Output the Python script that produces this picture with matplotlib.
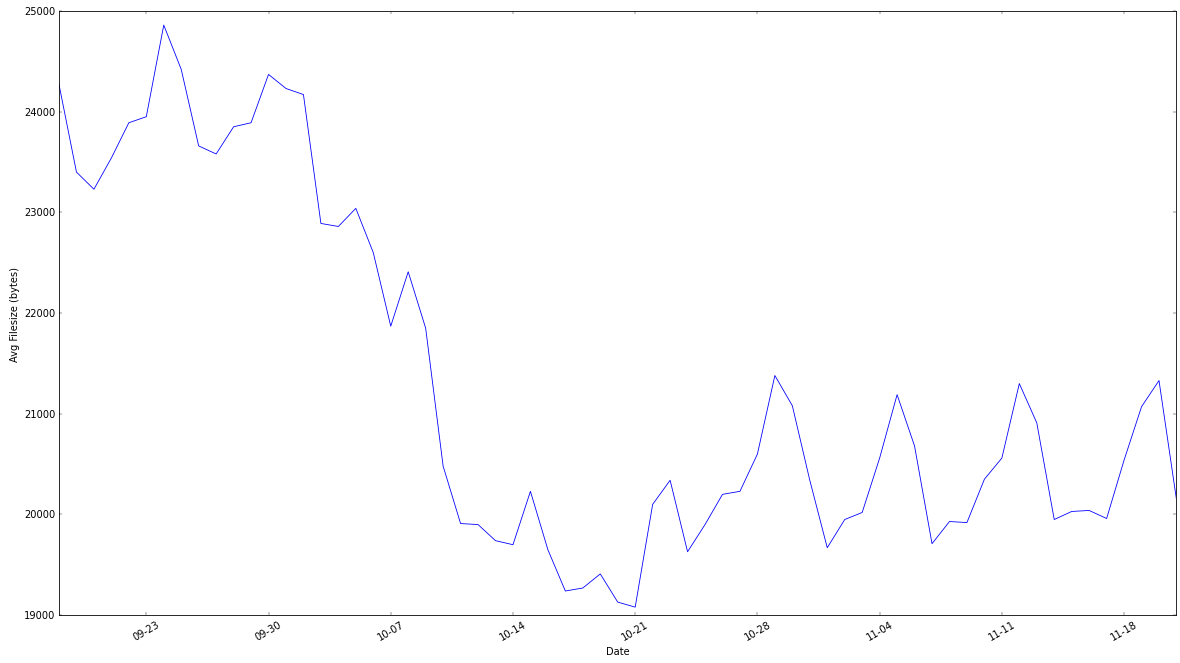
import matplotlib
matplotlib.use("Agg")
import matplotlib.pyplot as plt
import matplotlib.dates as mdates
import numpy as np
import pandas as pd

# daily average file size, 2013-09-18 .. 2013-11-21
start_date = "2013-09-18"
avg_size = [
    24270, 23400, 23230, 23540, 23890, 23950, 24860, 24420, 23660, 23580,
    23850, 23890, 24370, 24230, 24170, 22890, 22860, 23040, 22600, 21870,
    22410, 21850, 20480, 19910, 19900, 19740, 19700, 20230, 19650, 19240,
    19270, 19410, 19130, 19080, 20100, 20340, 19630, 19900, 20200, 20230,
    20600, 21380, 21080, 20340, 19670, 19950, 20020, 20560, 21190, 20680,
    19710, 19930, 19920, 20350, 20560, 21300, 20910, 19950, 20030, 20040,
    19960, 20540, 21070, 21330, 20150,
]
dates = pd.date_range(start_date, periods=len(avg_size), freq="D")

plt.style.use("classic")
fig = plt.figure(figsize=(20, 11.254), dpi=59)
ax = fig.add_subplot(111)
fig.subplots_adjust(left=0.05, right=0.997, top=0.982, bottom=0.072)

ax.plot(dates, avg_size, color="b", linewidth=1)
ax.set_xlim(dates[0], dates[-1])
ax.set_ylim(19000, 25000)
ax.xaxis.set_major_locator(mdates.WeekdayLocator(byweekday=mdates.MO))
ax.xaxis.set_major_formatter(mdates.DateFormatter("%m-%d"))
for lbl in ax.get_xticklabels():
    lbl.set_rotation(30)
ax.set_xlabel("Date")
ax.set_ylabel("Avg Filesize (bytes)")

fig.savefig("out.png", dpi=59)
